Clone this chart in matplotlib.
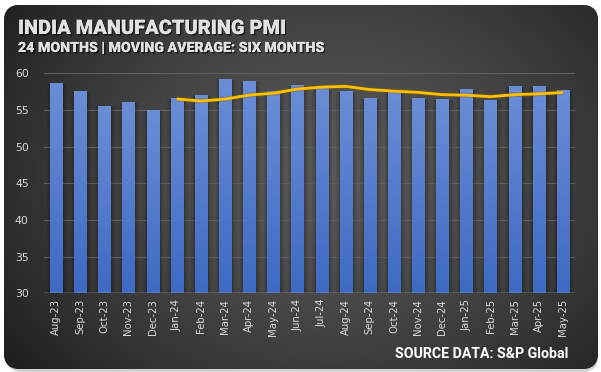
import numpy as np
import pandas as pd
import matplotlib
matplotlib.use("Agg")
import matplotlib.pyplot as plt
from matplotlib.patches import FancyBboxPatch
import matplotlib.patheffects as pe

months = ["Aug-23", "Sep-23", "Oct-23", "Nov-23", "Dec-23", "Jan-24", "Feb-24",
          "Mar-24", "Apr-24", "May-24", "Jun-24", "Jul-24", "Aug-24", "Sep-24",
          "Oct-24", "Nov-24", "Dec-24", "Jan-25", "Feb-25", "Mar-25", "Apr-25",
          "May-25"]
pmi = [58.6, 57.5, 55.5, 56.0, 54.9, 56.5, 56.9, 59.1, 58.8, 57.5, 58.3,
       58.1, 57.5, 56.5, 57.5, 56.5, 56.4, 57.7, 56.3, 58.1, 58.2, 57.6]
ma_window = 6
yticks = [30, 35, 40, 45, 50, 55, 60]

title = "INDIA MANUFACTURING PMI"
subtitle = "24 MONTHS | MOVING AVERAGE: SIX MONTHS"
source = "SOURCE DATA: S&P Global"

W, H = 601, 372
fig = plt.figure(figsize=(W / 100, H / 100), dpi=100)
fig.patch.set_facecolor("white")

# ---- background card ----
bg = fig.add_axes([0, 0, 1, 1])
bg.set_xlim(0, W)
bg.set_ylim(H, 0)
bg.axis("off")

shadow = FancyBboxPatch((6, 8), 592, 364, boxstyle="round,pad=0,rounding_size=16",
                        facecolor="black", alpha=0.18, edgecolor="none")
bg.add_patch(shadow)
card = FancyBboxPatch((4, 5), 594, 364, boxstyle="round,pad=0,rounding_size=16",
                      facecolor="#3a3a3a", edgecolor="none")
bg.add_patch(card)
yy, xx = np.mgrid[0:H, 0:W]
r = np.sqrt(((xx - 330) / 330.0) ** 2 + ((yy - 175) / 260.0) ** 2)
v = 0.345 - 0.17 * np.clip(r, 0, 1.2) ** 1.4
img = np.dstack([v, v, v])
im = bg.imshow(img, extent=[0, W, H, 0], interpolation="bilinear", zorder=1)
im.set_clip_path(card)

sh = [pe.withSimplePatchShadow(offset=(1, -1), shadow_rgbFace="black", alpha=0.6), pe.Normal()]
bg.text(18, 34, title, color="#e2e2e2", fontsize=14.4, fontweight="heavy",
        family="Roboto", va="baseline", ha="left", path_effects=sh)
bg.text(18, 52, subtitle, color="#e2e2e2", fontsize=10.2, fontweight="heavy",
        family="Roboto", va="baseline", ha="left", path_effects=sh)
bg.text(568, 358, source, color="white", fontsize=10.2, fontweight="bold",
        family="Roboto", va="baseline", ha="right")

# ---- chart ----
left, right = 44 / W, 575 / W
bottom, top = (H - 293.3) / H, (H - 73.3) / H
ax = fig.add_axes([left, bottom, right - left, top - bottom])
ax.set_facecolor("none")
x = np.arange(len(months))

for yv in yticks[1:]:
    ax.axhline(yv, color="#5f5f5f", lw=0.8, zorder=0)

bw = 0.5
# soft bar shadows
for extra, a in [(0.34, 0.07), (0.22, 0.09), (0.10, 0.12)]:
    ax.bar(x + 0.03, np.array(pmi) - 30, bottom=30, width=bw + extra,
           color="black", alpha=a, zorder=1, linewidth=0)

bars = ax.bar(x, np.array(pmi) - 30, bottom=30, width=bw, color="#5580cf",
              zorder=2, linewidth=0)
top_c = np.array([0x6b, 0x8d, 0xd6]) / 255
bot_c = np.array([0x3e, 0x6a, 0xc4]) / 255
grad = np.linspace(0, 1, 100)[:, None]
gimg = top_c[None, None, :] * (1 - grad[..., None]) + bot_c[None, None, :] * grad[..., None]
gimg = np.repeat(gimg, 2, axis=1)
for b in bars:
    x0, y0 = b.get_x(), b.get_y()
    ax.imshow(gimg, extent=[x0, x0 + b.get_width(), y0, y0 + b.get_height()],
              aspect="auto", zorder=3, interpolation="bilinear")
ax.set_xlim(-0.5, len(months) - 0.5)
ax.set_ylim(30, 60)

ma = pd.Series(pmi).rolling(ma_window).mean()
ax.plot(x[ma_window - 1:], ma.values[ma_window - 1:], color="#ffc000", lw=2,
        zorder=5, solid_capstyle="butt",
        path_effects=[pe.Stroke(linewidth=3.5, foreground="#806000", alpha=0.35), pe.Normal()])

ax.axhline(30, color="#bfbfbf", lw=1.0, zorder=4)

ax.set_xticks(x)
ax.set_xticklabels(months, rotation=90, color="#d9d9d9", fontsize=7.3)
ax.set_yticks(yticks)
ax.set_yticklabels([str(t) for t in yticks], color="#d9d9d9", fontsize=7.8)
ax.tick_params(axis="both", length=0, pad=4)
ax.tick_params(axis="y", pad=11)
for s in ax.spines.values():
    s.set_visible(False)

fig.savefig("out.png", dpi=100, facecolor=fig.get_facecolor())
